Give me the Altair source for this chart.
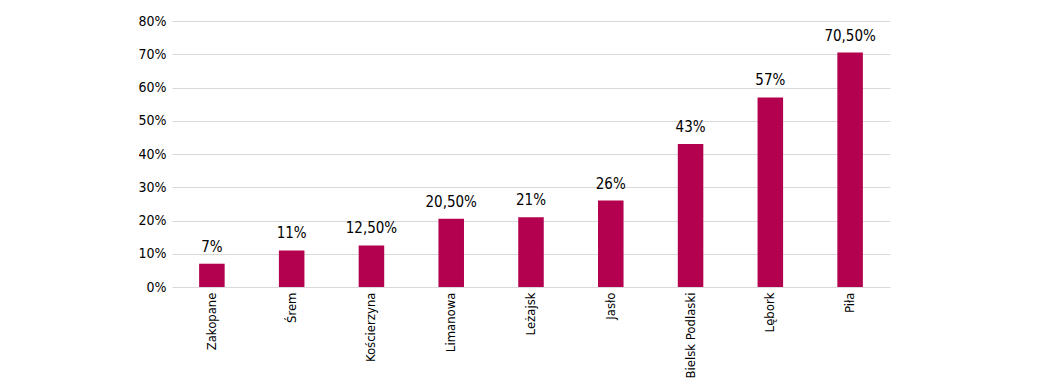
import altair as alt
import pandas as pd

cities = ["Zakopane", "Śrem", "Kościerzyna", "Limanowa", "Leżajsk", "Jasło",
          "Bielsk Podlaski", "Lębork", "Piła"]
values = [7, 11, 12.5, 20.5, 21, 26, 43, 57, 70.5]
labels = ["7%", "11%", "12,50%", "20,50%", "21%", "26%", "43%", "57%", "70,50%"]

df = pd.DataFrame({"city": cities, "value": values, "label": labels})

FONT = "DejaVu Sans Condensed, Liberation Sans Narrow, Roboto, sans-serif"

base = alt.Chart(df).encode(
    x=alt.X("city:N", sort=cities, title=None,
            scale=alt.Scale(paddingInner=0.68, paddingOuter=0.34),
            axis=alt.Axis(labelAngle=-90, labelFontSize=13, labelFont=FONT,
                          labelColor="#000000", domain=False, ticks=False,
                          labelPadding=5, grid=False)),
    y=alt.Y("value:Q", title=None,
            scale=alt.Scale(domain=[0, 80]),
            axis=alt.Axis(values=[0, 10, 20, 30, 40, 50, 60, 70, 80],
                          labelExpr="datum.value + '%'",
                          labelFontSize=14, labelFont=FONT, labelColor="#000000",
                          domain=False, ticks=False, labelPadding=6,
                          grid=True, gridColor="#D9D9D9", gridWidth=1)),
)

bars = base.mark_bar(color="#B3004F")
text = base.mark_text(dy=-17, fontSize=15, font=FONT, color="#000000").encode(text="label:N")

chart = (bars + text).properties(
    width=718, height=266,
    autosize=alt.AutoSizeParams(type="none"),
    padding={"left": 164, "top": 13, "right": 140, "bottom": 100},
).configure_view(stroke=None)

chart.save("out.html", embed_options={"renderer": "svg", "actions": False})
